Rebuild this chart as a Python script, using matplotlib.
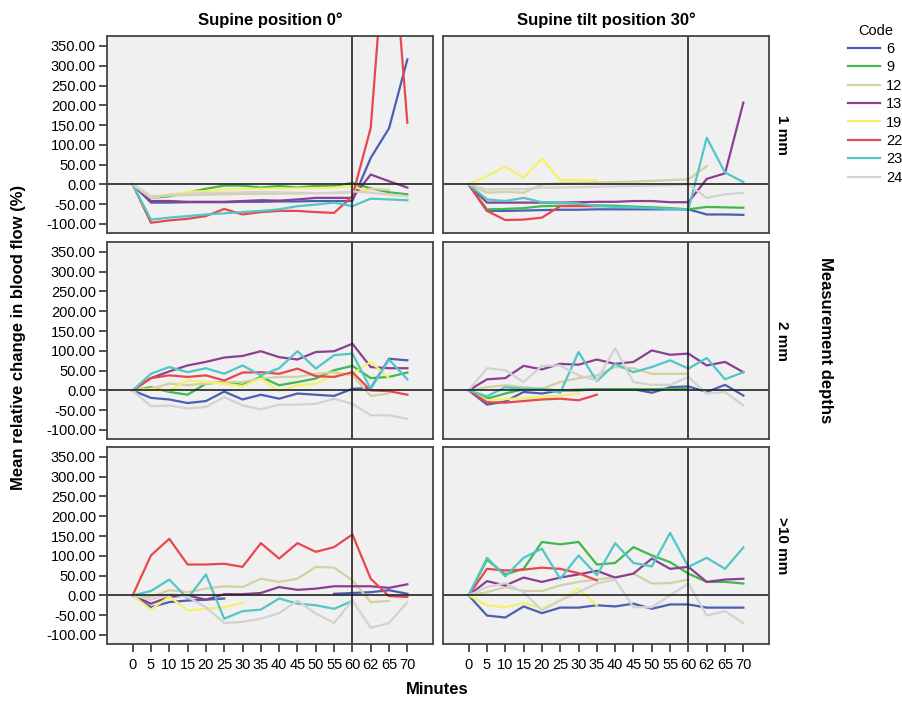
import numpy as np
import matplotlib
matplotlib.use('Agg')
import matplotlib.pyplot as plt
from matplotlib.lines import Line2D

plt.rcParams['font.family'] = ['Liberation Sans', 'DejaVu Sans']
nan = np.nan

minutes = ['0', '5', '10', '15', '20', '25', '30', '35', '40', '45', '50', '55', '60', '62', '65', '70']
codes = ['6', '9', '12', '13', '19', '22', '23', '24']
colors = ['#4A5FB4', '#40B84C', '#D4D0A2', '#8C3F91', '#F4F06A', '#E8474C', '#52C5C6', '#D2D2D2']
columns = ['Supine position 0°', 'Supine tilt position 30°']
depths = ['1 mm', '2 mm', '>10 mm']

# one dict per panel: code -> values at each minute
sup_1mm = {
    '6':  [0, -46, -46, -45, -45, -45, -44, -44, -43, -43, -42, -42, -42, 67, 142, 316],
    '9':  [0, -34, -30, -21, -11, -3, -3, -8, -4, -8, -4, -4, 4, -10, -20, -25],
    '12': [0, -30, -28, -27, -26, -25, -24, -24, -23, -23, -22, -22, -20, -11, -14, nan],
    '13': [0, -42, -42, -44, -44, -44, -42, -40, -41, -38, -34, -34, -34, 25, 8, -8],
    '19': [0, -34, -25, -19, -17, -13, -11, -11, -10, -10, -9, -8, -4, -21, -27, -30],
    '22': [0, -97, -91, -87, -80, -62, -76, -70, -67, -67, -70, -72, -30, 143, 740, 156],
    '23': [0, -89, -84, -80, -76, -73, -70, -67, -63, -55, -51, -46, -55, -36, -38, -40],
    '24': [0, -34, -26, -24, -22, -21, -20, -19, -20, -21, -22, -21, -18, -21, -25, -30],
}
tilt_1mm = {
    '6':  [0, -67, -67, -66, -65, -64, -64, -63, -63, -63, -63, -63, -63, -76, -76, -77],
    '9':  [0, -63, -62, -60, -55, -54, -53, -53, -54, -56, -58, -60, -63, -57, -58, -59],
    '12': [0, -21, -19, -21, 0, 3, 4, 5, 6, 7, 9, 11, 13, 46, nan, nan],
    '13': [0, -46, -46, -46, -46, -46, -45, -44, -44, -42, -42, -45, -45, 14, 28, 207],
    '19': [0, 21, 45, 17, 65, 11, 11, 11, nan, nan, nan, nan, nan, nan, nan, nan],
    '22': [0, -67, -90, -89, -84, -55, -55, -55, nan, nan, nan, nan, nan, nan, nan, nan],
    '23': [0, -38, -42, -34, -45, -46, -48, -55, -57, -58, -60, -62, -63, 118, 30, 6],
    '24': [0, -13, -12, -12, -8, -8, -7, -6, -5, -4, -3, -2, 0, -34, -25, -21],
}
sup_2mm = {
    '6':  [0, -19, -23, -32, -27, -3, -23, -11, -21, -8, -11, -14, 4, 6, 80, 76],
    '9':  [0, 8, -4, -11, 17, 21, 14, 34, 13, 21, 30, 51, 62, 31, 34, 45],
    '12': [0, 4, 17, 13, 17, 21, 21, 30, 34, 34, 42, 46, 38, -14, -8, nan],
    '13': [0, 31, 48, 63, 72, 83, 87, 99, 84, 78, 97, 99, 118, 59, 56, 56],
    '19': [0, 4, 0, 25, 21, 17, 11, 30, -3, 13, 17, 38, 42, 72, 31, nan],
    '22': [0, 31, 38, 34, 38, 25, 45, 46, 42, 55, 36, 34, 46, 0, -2, -11],
    '23': [0, 42, 59, 46, 56, 42, 63, 38, 56, 99, 55, 89, 93, 4, 78, 28],
    '24': [0, -40, -38, -46, -42, -17, -38, -48, -36, -36, -34, -21, -34, -63, -63, -72],
}
tilt_2mm = {
    '6':  [0, -36, -28, -4, -8, 0, 0, 3, 3, 3, -6, 8, 10, -4, 14, -13],
    '9':  [0, -21, -8, 3, 3, 0, 2, 3, 3, 3, 3, 4, 4, nan, nan, nan],
    '12': [0, 8, 13, 8, 4, 21, 31, 38, 59, 56, 42, 42, 42, nan, nan, nan],
    '13': [0, 28, 31, 62, 53, 67, 65, 78, 67, 72, 101, 90, 93, 63, 72, 46],
    '19': [0, -25, -22, -20, -16, -14, -8, nan, nan, nan, nan, nan, nan, nan, nan, nan],
    '22': [0, -30, -31, -27, -23, -21, -25, -11, nan, nan, nan, nan, nan, nan, nan, nan],
    '23': [0, -15, 8, 4, 4, -6, 97, 23, 67, 46, 59, 76, 55, 82, 28, 46],
    '24': [0, 56, 51, 21, 62, 63, 38, 25, 107, 21, 14, 14, 34, -8, -4, -38],
}
sup_10mm = {
    '6':  [0, -30, -17, -13, -11, -8, nan, nan, nan, nan, nan, 4, 6, 8, 13, 4],
    '9':  [nan] * 16,
    '12': [0, -4, 13, 8, 17, 23, 21, 42, 34, 42, 72, 70, 38, -17, -14, nan],
    '13': [0, -21, -4, 0, -11, 3, 3, 6, 21, 14, 17, 23, 23, 23, 19, 28],
    '19': [0, -36, -3, -38, -34, -30, -19, nan, nan, nan, nan, nan, nan, nan, nan, nan],
    '22': [0, 101, 143, 78, 78, 80, 72, 132, 93, 132, 110, 122, 154, 42, -2, -4],
    '23': [0, 11, 40, -8, 53, -59, -40, -36, -8, -21, -25, -34, -14, nan, nan, nan],
    '24': [0, -11, 4, -4, -30, -70, -67, -59, -45, -13, -46, -70, -13, -82, -70, -17],
}
tilt_10mm = {
    '6':  [0, -51, -56, -28, -45, -31, -31, -25, -28, -21, -34, -23, -23, -31, -31, -31],
    '9':  [0, 90, 53, 67, 135, 129, 135, 78, 82, 122, 101, 84, 55, 34, 34, 30],
    '12': [0, 8, 21, 11, 11, 25, 34, 40, 46, 55, 30, 31, 40, nan, nan, nan],
    '13': [0, 36, 25, 45, 34, 45, 53, 62, 45, 55, 93, 67, 72, 34, 40, 42],
    '19': [0, -25, -30, -19, -34, -11, 17, -25, nan, nan, nan, nan, nan, nan, nan, nan],
    '22': [0, 67, 63, 65, 70, 67, 56, 38, nan, nan, nan, nan, nan, nan, nan, nan],
    '23': [0, 95, 48, 95, 118, 42, 101, 51, 132, 82, 73, 158, 72, 95, 67, 121],
    '24': [0, 21, 31, 8, -38, -13, 8, 30, 40, -30, -30, 0, 30, -51, -40, -70],
}
panels = [[sup_1mm, tilt_1mm], [sup_2mm, tilt_2mm], [sup_10mm, tilt_10mm]]

fig = plt.figure(figsize=(9.03, 7.02), dpi=100)
lefts = [0.1185, 0.4906]
bottoms = [0.668, 0.3746, 0.0826]
x = np.arange(len(minutes))

for r in range(3):
    for c in range(2):
        ax = fig.add_axes([lefts[c], bottoms[r], 0.361, 0.2806])
        ax.set_facecolor('#F0F0F0')
        data = panels[r][c]
        for code, col in zip(codes, colors):
            ax.plot(x, data[code], color=col, lw=1.6)
        ax.axhline(0, color='#222222', lw=1.2)
        ax.axvline(12, color='#222222', lw=1.2)
        ax.set_xlim(-1.4, 16.4)
        ax.set_ylim(-123, 375)
        ax.set_yticks(np.arange(-100, 351, 50))
        ax.set_xticks(x)
        for s in ax.spines.values():
            s.set_color('#444444')
            s.set_linewidth(1.3)
        ax.tick_params(length=6, width=1.2, color='#333333', labelsize=10.5)
        if c == 0:
            ax.set_yticklabels(['%.2f' % v for v in np.arange(-100, 351, 50)])
            ax.tick_params(axis='y', pad=2)
        else:
            ax.tick_params(axis='y', left=False, labelleft=False)
        if r == 2:
            ax.set_xticklabels(minutes)
            ax.tick_params(axis='x', pad=4)
        else:
            ax.tick_params(axis='x', bottom=False, labelbottom=False)
        if r == 0:
            ax.set_title(columns[c], fontsize=12, fontweight='bold', pad=8)
        if c == 1:
            ax.text(1.04, 0.5, depths[r], transform=ax.transAxes, rotation=-90,
                    ha='center', va='center', fontsize=11, fontweight='bold')

fig.text(0.02, 0.52, 'Mean relative change in blood flow (%)', rotation=90,
         ha='center', va='center', fontsize=12, fontweight='bold')
fig.text(0.914, 0.515, 'Measurement depths', rotation=-90,
         ha='center', va='center', fontsize=12, fontweight='bold')
fig.text(0.484, 0.018, 'Minutes', ha='center', va='center', fontsize=12, fontweight='bold')

handles = [Line2D([0], [0], color=col, lw=1.6) for col in colors]
leg = fig.legend(handles, codes, title='Code', loc='upper left', bbox_to_anchor=(0.925, 0.985),
                 frameon=False, fontsize=10.5, title_fontsize=10.5, handlelength=2.2,
                 handletextpad=0.4, labelspacing=0.3)

fig.savefig('out.png', dpi=100)
